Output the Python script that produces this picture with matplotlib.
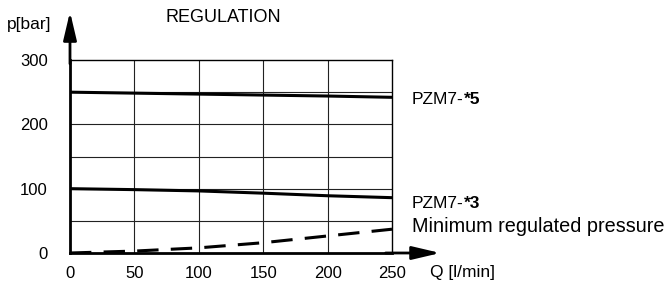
import matplotlib.pyplot as plt
import numpy as np

plt.rcParams['font.family'] = ['Liberation Sans', 'DejaVu Sans']

# flow Q [l/min]
flow = np.array([0, 50, 100, 150, 200, 250])
# regulated pressure curves [bar]
pzm5 = np.array([250, 248.5, 247, 245.5, 244, 242])
pzm3 = np.array([100, 98.5, 96.5, 93, 89, 86])
min_reg = np.array([0, 3, 8, 16, 26.5, 37])

x_ticks = [0, 50, 100, 150, 200, 250]
y_ticks = [0, 100, 200, 300]

fig = plt.figure(figsize=(6.66, 2.85), dpi=100)
ax = fig.add_axes([70 / 666, 1 - 253 / 285, 322 / 666, 193 / 285])

ax.set_xlim(0, 250)
ax.set_ylim(0, 300)

# grid
for gx in [50, 100, 150, 200]:
    ax.axvline(gx, color="#222222", lw=0.8, zorder=1)
for gy in [50, 100, 150, 200, 250]:
    ax.axhline(gy, color="#222222", lw=0.8, zorder=1)

ax.plot(flow, pzm5, color="black", lw=2.2, zorder=3)
ax.plot(flow, pzm3, color="black", lw=2.2, zorder=3)
ax.plot(flow, min_reg, color="black", lw=2.2, dashes=(7, 4), zorder=3)

for s in ["top", "right"]:
    ax.spines[s].set_linewidth(1.0)
for s in ["left", "bottom"]:
    ax.spines[s].set_linewidth(2.0)

ax.set_xticks(x_ticks)
ax.set_yticks(y_ticks)
ax.tick_params(length=0, labelsize=12, pad=9)
ax.tick_params(axis="y", pad=16)

# axis arrows
ax.annotate("", xy=(0, 1.25), xytext=(0, 0.98), xycoords="axes fraction",
            arrowprops=dict(arrowstyle="-|>,head_length=1.7,head_width=0.4",
                            color="black", lw=2.0, shrinkA=0, shrinkB=0))
ax.annotate("", xy=(1.15, 0), xytext=(0.98, 0), xycoords="axes fraction",
            arrowprops=dict(arrowstyle="-|>,head_length=1.7,head_width=0.4",
                            color="black", lw=2.0, shrinkA=0, shrinkB=0))

fig.text(7 / 666, 1 - 25 / 285, "p[bar]", fontsize=12.5, va="center")
fig.text(223 / 666, 1 - 18 / 285, "REGULATION", fontsize=13, va="center", ha="center")
fig.text(430 / 666, 1 - 273 / 285, "Q [l/min]", fontsize=12.5, va="center")

t5 = fig.text(412 / 666, 1 - 104 / 285, "PZM7-", fontsize=12.5, va="baseline")
t3 = fig.text(412 / 666, 1 - 208 / 285, "PZM7-", fontsize=12.5, va="baseline")
fig.text(412 / 666, 1 - 226 / 285, "Minimum regulated pressure", fontsize=14.3, va="center")

# put the bold suffix right after the normal part
fig.canvas.draw()
r = fig.canvas.get_renderer()
for t, suffix in [(t5, "*5"), (t3, "*3")]:
    bb = t.get_window_extent(r)
    x0, y0 = t.get_position()
    fig.text(bb.x1 / fig.bbox.width, y0, suffix, fontsize=12.5,
             fontweight="bold", va="baseline")

fig.savefig("out.png", dpi=100)
